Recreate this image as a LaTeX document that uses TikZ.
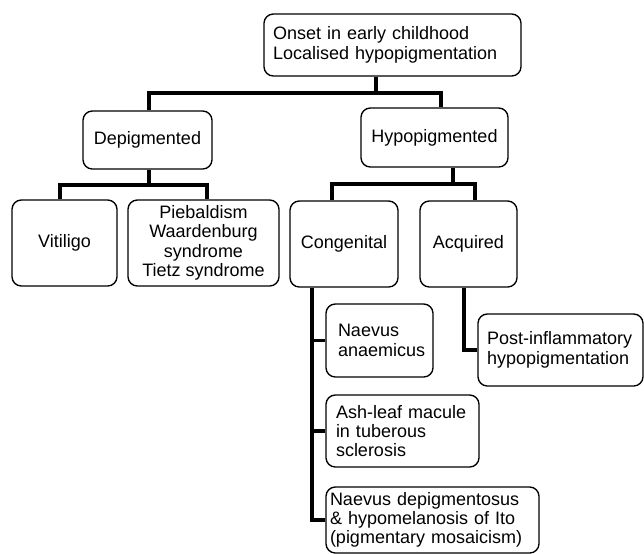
\documentclass[tikz,border=0pt]{standalone}
\usepackage{fontspec}
\setmainfont{Liberation Sans}
\usepackage{tikz}
\tikzstyle{treebox} = [
    draw=black,
    fill=white,
    line width=1pt,
    rounded corners=7pt,
    rectangle,
    align=center,
    inner sep=2pt,
    font=\fontsize{13.5}{14.5}\selectfont
    ]
\tikzstyle{leftbox} = [
    treebox,
    align=left
    ]
\tikzstyle{branch} = [
    draw=black,
    line width=2.5pt
    ]
\begin{document}
\begin{tikzpicture}[x=0.75pt,y=-0.75pt]
\useasboundingbox (0,0) rectangle (644,554);

\node[leftbox, text width=179.25pt, inner xsep=6.75pt, minimum height=46.5pt] (onset) at (392.5,45) {Onset in early childhood\\Localised hypopigmentation};

\node[treebox, minimum width=96.75pt, minimum height=43.5pt] (depig) at (147.5,140) {Depigmented};
\node[treebox, minimum width=110.25pt, minimum height=44.25pt] (hypo) at (434.5,137.5) {Hypopigmented};

\node[treebox, minimum width=78.75pt, minimum height=64.5pt] (vitiligo) at (64.5,243) {Vitiligo};
\node[treebox, minimum width=113.25pt, minimum height=64.5pt] (piebald) at (203.5,243) {Piebaldism\\Waardenburg\\syndrome\\Tietz syndrome};
\node[treebox, minimum width=81pt, minimum height=64.5pt] (congenital) at (344,244) {Congenital};
\node[treebox, minimum width=72.75pt, minimum height=64.5pt] (acquired) at (468.5,244) {Acquired};

\node[leftbox, text width=62.25pt, inner xsep=9pt, minimum height=54.75pt] (anaemicus) at (379.5,340.5) {Naevus\\anaemicus};
\node[leftbox, text width=99.75pt, inner xsep=7.5pt, minimum height=54pt] (ashleaf) at (402.5,431) {Ash-leaf macule\\in tuberous\\sclerosis};
\node[leftbox, text width=153.75pt, inner xsep=3pt, inner ysep=1pt, minimum height=49.5pt] (depigmentosus) at (432.5,520) {Naevus depigmentosus\\\& hypomelanosis of Ito\\(pigmentary mosaicism)};
\node[leftbox, text width=110.25pt, inner xsep=6.75pt, minimum height=54pt] (postinfl) at (560.5,350) {Post-inflammatory\\hypopigmentation};

% first split
\coordinate (stem1) at (376,93);
\coordinate (bus1l) at (149,93);
\coordinate (bus1r) at (441,93);
\draw[branch] (onset.south -| stem1) -- (stem1);
\draw[branch] (depig.north -| bus1l) |- (bus1r) -- (hypo.north -| bus1r);

\coordinate (stem2) at (149,185);
\coordinate (bus2l) at (60,185);
\coordinate (bus2r) at (207,185);
\draw[branch] (depig.south -| stem2) -- (stem2);
\draw[branch] (vitiligo.north -| bus2l) |- (bus2r) -- (piebald.north -| bus2r);

\coordinate (stem3) at (453,184);
\coordinate (bus3l) at (332,184);
\coordinate (bus3r) at (475,184);
\draw[branch] (hypo.south -| stem3) -- (stem3);
\draw[branch] (congenital.north -| bus3l) |- (bus3r) -- (acquired.north -| bus3r);

% congenital list
\coordinate (trunk) at (312,0);
\draw[branch] (congenital.south -| trunk) |- (depigmentosus.west);
\draw[branch] (anaemicus.west) -- (anaemicus.west -| trunk);
\draw[branch] (ashleaf.west) -- (ashleaf.west -| trunk);

\coordinate (trunk2) at (464,0);
\draw[branch] (acquired.south -| trunk2) |- (postinfl.west);
\end{tikzpicture}
\end{document}
